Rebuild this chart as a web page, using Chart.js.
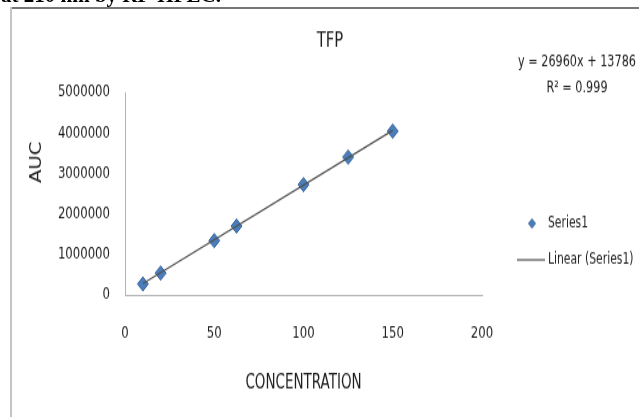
<!DOCTYPE html>
<html>
<head>
<meta charset="utf-8">
<script src="https://cdn.jsdelivr.net/npm/chart.js@4.4.0/dist/chart.umd.min.js"></script>
<style>
  html, body { margin: 0; padding: 0; background: #fff; }
  #wrap { position: relative; width: 639px; height: 417px; overflow: hidden; }
  /* la imagen original está estirada en vertical, así que se estira el canvas igual */
  #chartTfp { position: absolute; left: 0; top: 0; transform: scaleY(1.2991); transform-origin: 0 0; }
  #header { position: absolute; left: 1px; top: -15px; font: bold 21px "Liberation Serif", "Times New Roman", serif; color: #000; white-space: nowrap; line-height: 21px; }
  #frameTop { position: absolute; left: 10px; top: 7px; width: 629px; height: 2px; background: #777; }
  #frameLeft { position: absolute; left: 10px; top: 7px; width: 2px; height: 410px; background: #c4c4c4; }
</style>
</head>
<body>
<div id="wrap">
  <canvas id="chartTfp" width="639" height="321"></canvas>
  <div id="header">at 210 nm by RP-HPLC.</div>
  <div id="frameTop"></div>
  <div id="frameLeft"></div>
</div>
<script>
// Datos
const concentracion = [10, 20, 50, 62.5, 100, 125, 150];
const auc = [270000, 540000, 1340000, 1700000, 2720000, 3400000, 4040000];

// Línea de tendencia (extremos)
const lineaX = [10, 150];
const lineaY = [283000, 4058000];

const xTicks = [0, 50, 100, 150, 200];
const yTicks = [0, 1000000, 2000000, 3000000, 4000000, 5000000];

const tituloGrafico = 'TFP';
const tituloX = 'CONCENTRATION';
const tituloY = 'AUC';
const ecuacion = 'y = 26960x + 13786';
const r2 = 'R\u00B2 = 0.999';
const nombreSerie = 'Series1';
const nombreLinea = 'Linear (Series1)';

const FUENTE = '"DejaVu Sans Condensed", "Liberation Sans Narrow", sans-serif';
const AZUL = '#4a7ebb';
const AZUL_BORDE = '#3a669c';
const GRIS_LINEA = '#505050';
const TEXTO = '#1e1e1e';

// Textos extra: título, ecuación, título del eje Y y leyenda
const textosExtra = {
  id: 'textosExtra',
  afterDraw(chart) {
    const ctx = chart.ctx;
    ctx.save();
    ctx.fillStyle = TEXTO;
    ctx.textAlign = 'center';
    ctx.textBaseline = 'middle';

    ctx.font = '16.5px ' + FUENTE;
    ctx.fillText(tituloGrafico, 330, 32);

    ctx.font = '12.5px ' + FUENTE;
    ctx.fillText(ecuacion, 577, 48);
    ctx.fillText(r2, 577, 68);

    // leyenda
    ctx.fillStyle = AZUL;
    ctx.strokeStyle = AZUL_BORDE;
    Chart.helpers.drawPoint(ctx, { pointStyle: 'rectRot', radius: 3.5, borderWidth: 1 }, 532, 172);
    ctx.textAlign = 'left';
    ctx.font = '12px ' + FUENTE;
    ctx.fillStyle = TEXTO;
    ctx.fillText(nombreSerie, 548, 172);
    ctx.strokeStyle = GRIS_LINEA;
    ctx.lineWidth = 1.2;
    ctx.beginPath();
    ctx.moveTo(517, 200);
    ctx.lineTo(545, 200);
    ctx.stroke();
    ctx.fillText(nombreLinea, 548, 200);

    // título eje Y
    ctx.textAlign = 'center';
    ctx.font = '15px "DejaVu Sans", sans-serif';
    ctx.translate(37, 125);
    ctx.rotate(-Math.PI / 2);
    ctx.fillText(tituloY, 0, 0);
    ctx.restore();
  }
};

Chart.defaults.font.family = FUENTE;
Chart.defaults.color = TEXTO;

new Chart(document.getElementById('chartTfp'), {
  type: 'scatter',
  data: {
    datasets: [
      {
        label: nombreLinea,
        type: 'line',
        data: lineaX.map((x, i) => ({ x, y: lineaY[i] })),
        borderColor: GRIS_LINEA,
        borderWidth: 1.2,
        pointRadius: 0,
        fill: false
      },
      {
        label: nombreSerie,
        data: concentracion.map((x, i) => ({ x, y: auc[i] })),
        pointStyle: 'rectRot',
        pointRadius: 5.5,
        pointBackgroundColor: AZUL,
        pointBorderColor: AZUL_BORDE,
        pointBorderWidth: 1
      }
    ]
  },
  plugins: [textosExtra],
  options: {
    responsive: false,
    animation: false,
    layout: { padding: { top: 71, right: 157, bottom: 0, left: 0 } },
    plugins: {
      legend: { display: false },
      tooltip: { enabled: false }
    },
    scales: {
      x: {
        type: 'linear',
        min: 0,
        max: 200,
        afterBuildTicks: s => { s.ticks = xTicks.map(v => ({ value: v })); },
        afterFit: s => { s.height = 94; },
        grid: { display: false, drawTicks: false },
        border: { display: true, color: '#b4b4b4', width: 1 },
        ticks: { padding: 21.5, font: { size: 13 }, callback: v => String(v) },
        title: { display: true, text: tituloX, font: { size: 15 }, color: TEXTO, padding: { top: 4, bottom: 16.5 } }
      },
      y: {
        type: 'linear',
        min: 0,
        max: 5000000,
        afterBuildTicks: s => { s.ticks = yTicks.map(v => ({ value: v })); },
        afterFit: s => { s.width = 125; },
        grid: { display: false, drawTicks: false },
        border: { display: true, color: '#b4b4b4', width: 1 },
        ticks: { padding: 15, font: { size: 13 }, callback: v => String(v) }
      }
    }
  }
});
</script>
</body>
</html>
